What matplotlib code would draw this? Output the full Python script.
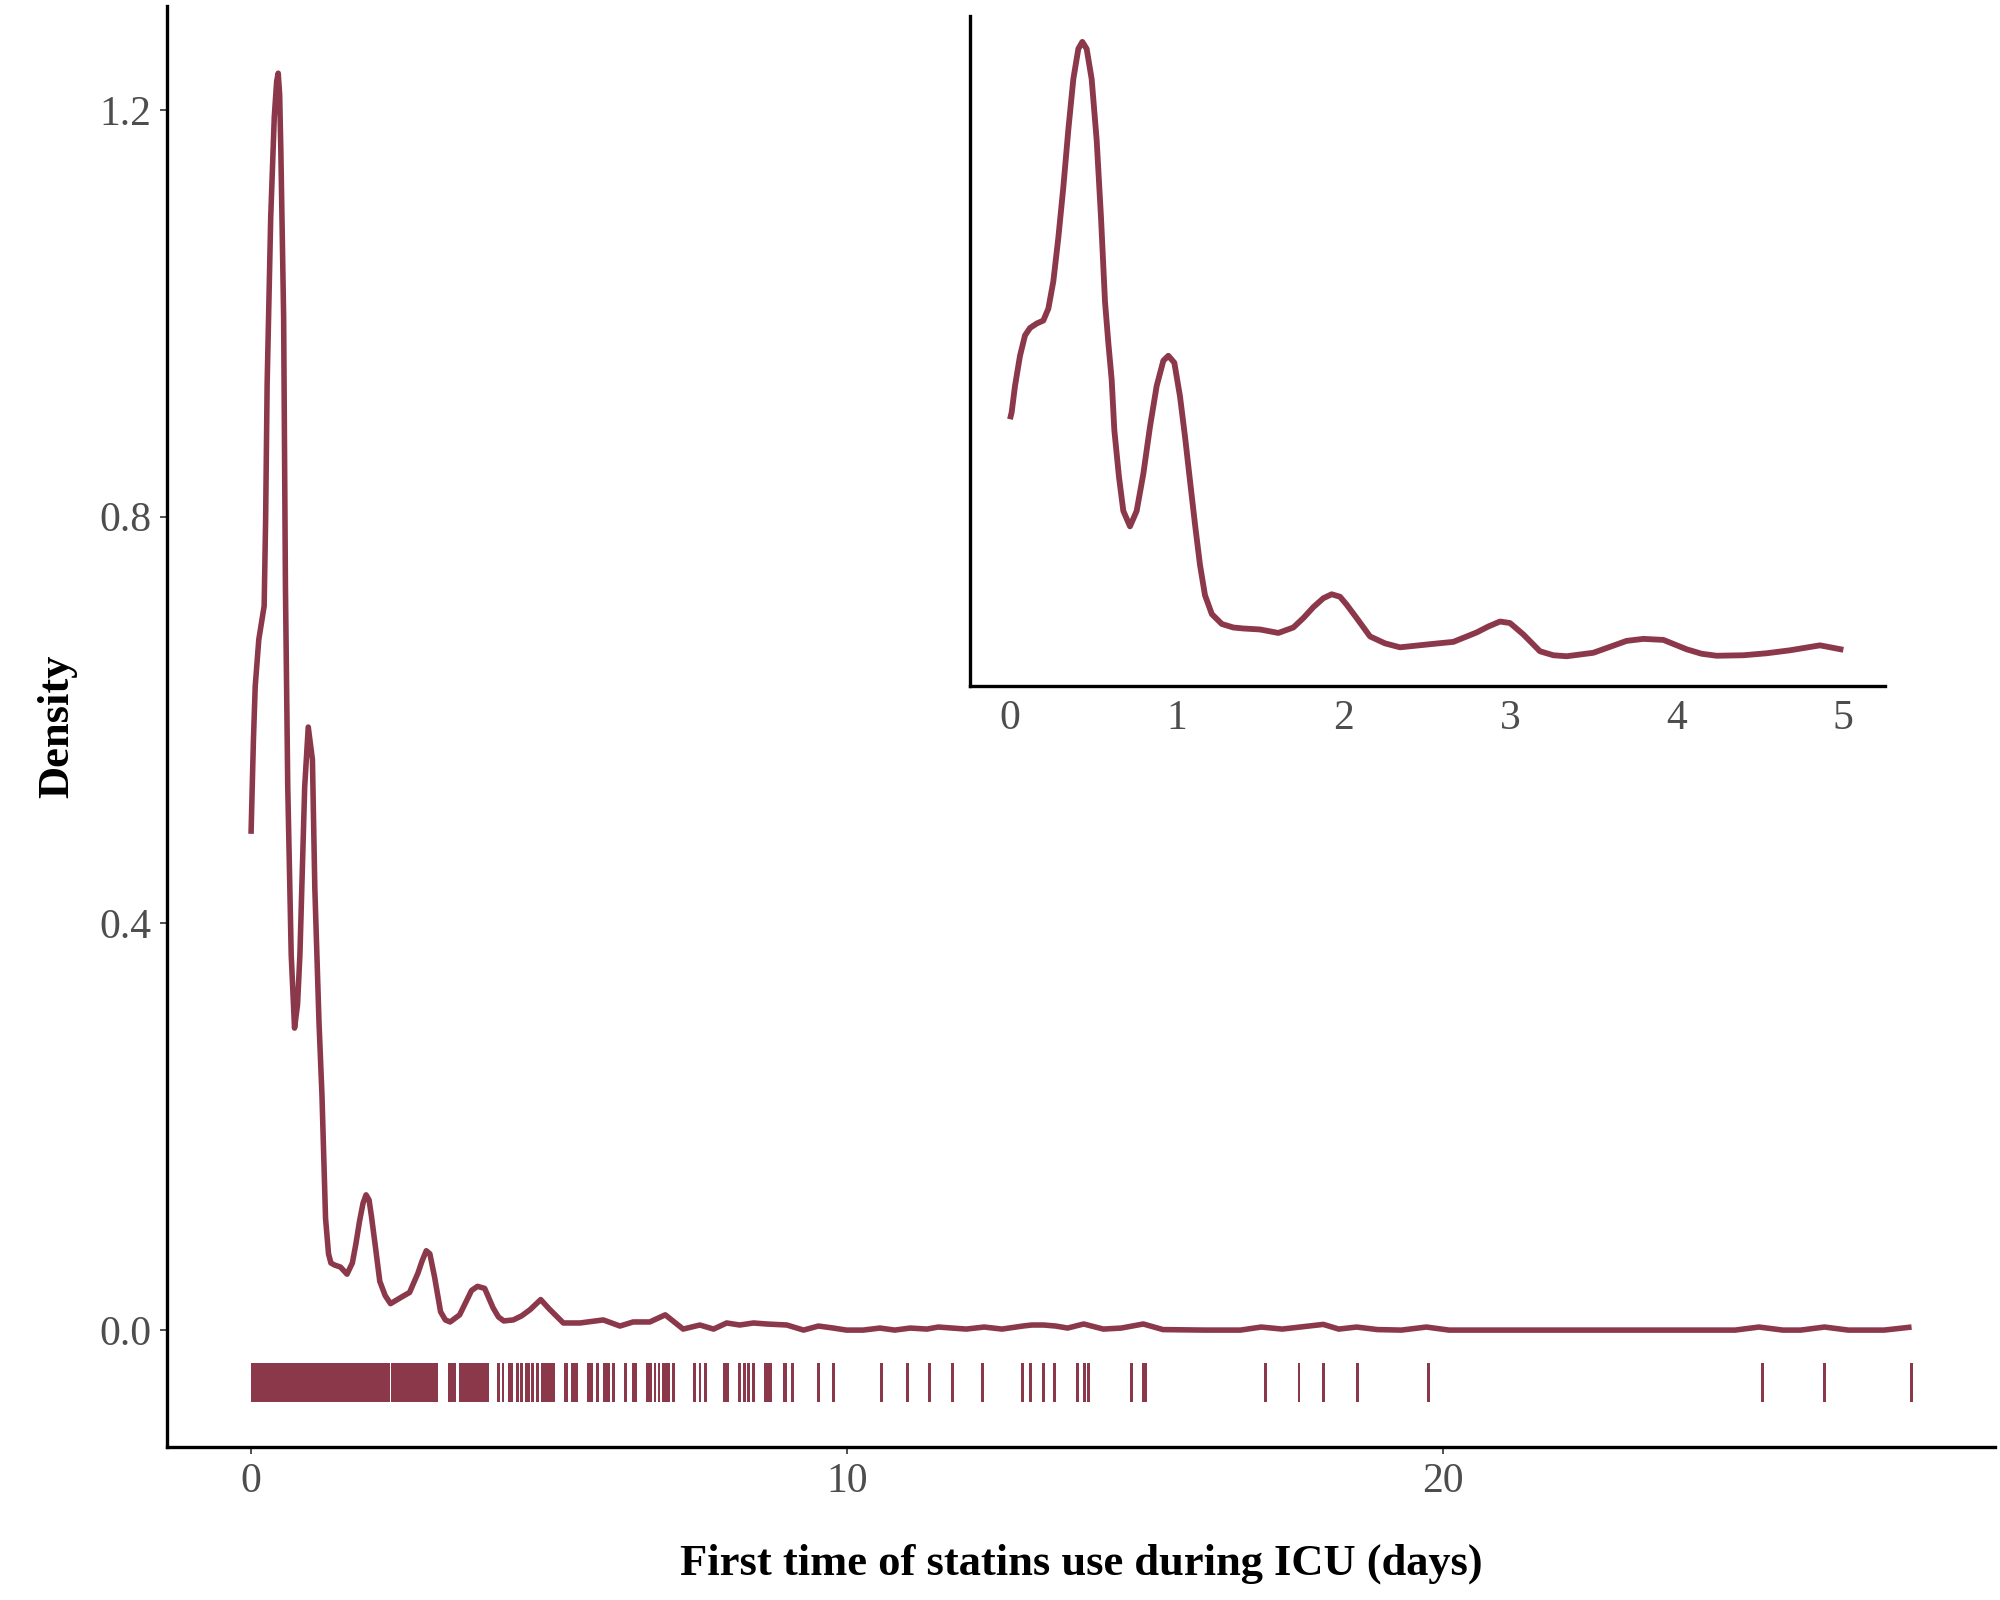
import numpy as np
import matplotlib.pyplot as plt

plt.rcParams['font.family'] = ['Liberation Serif', 'DejaVu Serif']

# Density curve (days, density), fine detail up to day 5
curve_x = [0.00, 0.01, 0.03, 0.06, 0.09, 0.12, 0.16, 0.20, 0.23, 0.26, 0.29, 0.32,
           0.35, 0.38, 0.41, 0.434, 0.46, 0.49, 0.52, 0.546, 0.57, 0.59, 0.61,
           0.626, 0.654, 0.68, 0.72, 0.76, 0.80, 0.84, 0.88, 0.92, 0.95, 0.986,
           1.02, 1.05, 1.08, 1.11, 1.14, 1.17, 1.211, 1.271, 1.34, 1.40, 1.50,
           1.61, 1.70, 1.76, 1.82, 1.88, 1.93, 1.98, 2.02, 2.08, 2.16, 2.25, 2.34,
           2.54, 2.66, 2.80, 2.87, 2.94, 3.00, 3.08, 3.18, 3.26, 3.34, 3.50, 3.70,
           3.80, 3.92, 4.06, 4.15, 4.24, 4.40, 4.54, 4.68, 4.86, 5.00, 5.24, 5.52,
           5.91, 6.19, 6.41, 6.69, 6.95, 7.25, 7.53, 7.76, 7.98, 8.20, 8.43, 8.65,
           8.99, 9.27, 9.52, 9.77, 9.99, 10.27, 10.55, 10.80, 11.06, 11.34, 11.53,
           12.00, 12.30, 12.60, 12.95, 13.10, 13.30, 13.50, 13.70, 13.97, 14.30,
           14.60, 14.97, 15.30, 16.00, 16.60, 16.95, 17.30, 17.60, 17.99, 18.25,
           18.55, 18.90, 19.30, 19.72, 20.10, 21.0, 22.0, 23.0, 24.0, 24.9, 25.30,
           25.70, 26.00, 26.40, 26.80, 27.40, 27.86]
curve_y = [0.486, 0.500, 0.553, 0.614, 0.655, 0.670, 0.679, 0.685, 0.709, 0.764, 0.852, 0.954,
           1.070, 1.172, 1.233, 1.247, 1.233, 1.172, 1.049, 0.893, 0.723, 0.640, 0.566,
           0.464, 0.369, 0.301, 0.270, 0.301, 0.376, 0.471, 0.553, 0.604, 0.614, 0.600,
           0.532, 0.451, 0.362, 0.274, 0.192, 0.131, 0.093, 0.073, 0.066, 0.064, 0.062,
           0.055, 0.066, 0.085, 0.107, 0.125, 0.133, 0.128, 0.112, 0.085, 0.048, 0.034, 0.026,
           0.033, 0.037, 0.056, 0.068, 0.078, 0.075, 0.052, 0.018, 0.010, 0.008, 0.015, 0.039,
           0.043, 0.041, 0.022, 0.013, 0.009, 0.010, 0.014, 0.020, 0.030, 0.021, 0.007, 0.007,
           0.010, 0.004, 0.008, 0.008, 0.015, 0.001, 0.005, 0.001, 0.007, 0.005, 0.007, 0.006,
           0.005, 0.000, 0.004, 0.002, 0.000, 0.000, 0.002, 0.000, 0.002, 0.001, 0.003,
           0.001, 0.003, 0.001, 0.004, 0.005, 0.005, 0.004, 0.002, 0.006, 0.001,
           0.002, 0.006, 0.0005, 0.000, 0.000, 0.003, 0.001, 0.003, 0.0056, 0.001,
           0.003, 0.0005, 0.000, 0.003, 0.000, 0.000, 0.000, 0.000, 0.000, 0.000, 0.003,
           0.000, 0.000, 0.003, 0.000, 0.000, 0.003]

# Main panel draws the first day and a bit more coarsely
head_x = [0.00, 0.04, 0.07, 0.13, 0.22, 0.245, 0.27, 0.33, 0.39, 0.43, 0.456, 0.48,
          0.50, 0.547, 0.577, 0.616, 0.674, 0.73, 0.78, 0.82, 0.90, 0.96, 1.03,
          1.07, 1.14, 1.19, 1.25, 1.30]
head_y = [0.488, 0.580, 0.633, 0.679, 0.712, 0.798, 0.930, 1.094, 1.193, 1.228, 1.236, 1.215,
          1.160, 0.996, 0.732, 0.534, 0.369, 0.297, 0.320, 0.369, 0.534, 0.593, 0.561,
          0.435, 0.303, 0.231, 0.110, 0.075]

# Rug: dense clusters (start, end) and single observations
rug_spans = [(0.00, 2.33), (2.35, 3.14), (3.31, 3.44), (3.49, 4.00), (4.31, 4.40),
             (4.60, 4.68), (4.87, 5.10), (5.25, 5.32), (5.37, 5.48), (5.64, 5.73),
             (5.91, 6.02), (6.39, 6.47), (6.63, 6.73), (6.90, 7.03), (7.92, 8.02),
             (8.61, 8.74), (8.93, 9.00), (14.95, 15.04)]
rug_ticks = [4.15, 4.225, 4.465, 4.54, 4.725, 4.81, 5.815, 6.08, 6.28, 6.775, 6.845,
             7.09, 7.435, 7.53, 7.62, 8.20, 8.28, 8.35, 8.43, 9.085, 9.52, 9.77,
             10.575, 11.01, 11.38, 11.765, 12.27, 12.94, 13.075, 13.295, 13.48,
             13.865, 13.98, 14.05, 14.77, 17.02, 17.58, 17.99, 18.56, 19.75,
             25.36, 26.40, 27.86]

main_xticks = [0, 10, 20]
main_yticks = [0.0, 0.4, 0.8, 1.2]
inset_xticks = [0, 1, 2, 3, 4, 5]
inset_max_x = 5.0

col = '#8C384B'
grey = '#4D4D4D'
rug_bottom, rug_top = -0.0706, -0.0325

fig = plt.figure(figsize=(20, 16), dpi=100)

# main panel
main_x = head_x + [x for x in curve_x if x > head_x[-1]]
main_y = head_y + [y for x, y in zip(curve_x, curve_y) if x > head_x[-1]]
ax = fig.add_axes([0.0835, 0.0956, 0.914, 0.9006])
ax.plot(main_x, main_y, color=col, lw=4.0, solid_joinstyle='round',
        solid_capstyle='butt')
starts = [s for s, e in rug_spans]
widths = [e - s for s, e in rug_spans]
ax.bar(starts, rug_top - rug_bottom, width=widths, bottom=rug_bottom,
       align='edge', color=col, linewidth=0)
ax.bar(rug_ticks, rug_top - rug_bottom, width=0.045, bottom=rug_bottom,
       align='center', color=col, linewidth=0)
ax.set_xlim(-1.41, 29.26)
ax.set_ylim(-0.115, 1.302)
ax.set_xticks(main_xticks)
ax.set_yticks(main_yticks)
ax.set_yticklabels([f'{v:.1f}' for v in main_yticks])
ax.set_xlabel('First time of statins use during ICU (days)', fontsize=32,
              fontweight='bold', labelpad=31)
ax.set_ylabel('Density', fontsize=32, fontweight='bold', labelpad=16)

# inset panel: same curve, first five days
ins_x = [x for x in curve_x if x <= inset_max_x]
ins_y = curve_y[:len(ins_x)]
ins = fig.add_axes([0.485, 0.57125, 0.4575, 0.419])
ins.plot(ins_x, ins_y, color=col, lw=4.2, solid_joinstyle='round',
         solid_capstyle='butt')
ins.set_xlim(-0.24, 5.25)
ins.set_ylim(-0.052, 1.30)
ins.set_xticks(inset_xticks)
ins.set_yticks([])
ins.patch.set_alpha(0)

for a in (ax, ins):
    a.spines['top'].set_visible(False)
    a.spines['right'].set_visible(False)
    a.spines['left'].set_linewidth(2.4)
    a.spines['bottom'].set_linewidth(2.4)
    a.tick_params(labelsize=30, labelcolor=grey, color='#333333', width=1.2,
                  length=5, pad=6)
ins.tick_params(axis='x', length=0, pad=10)

fig.savefig('out.png', dpi=100)
